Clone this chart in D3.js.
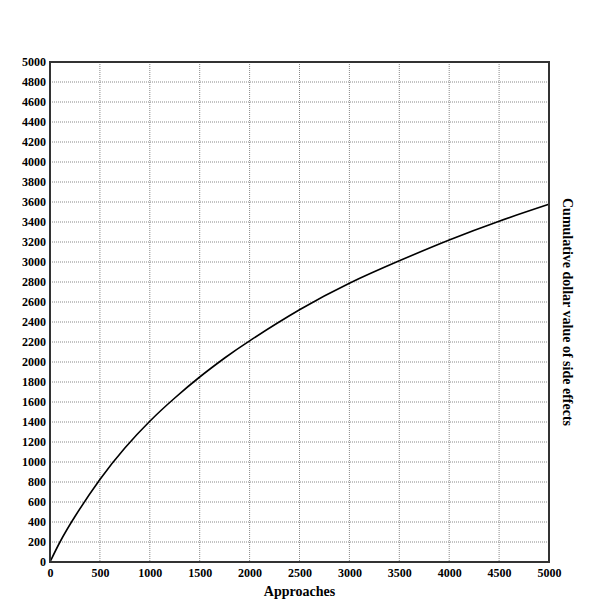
<!DOCTYPE html>
<html>
<head>
<meta charset="utf-8">
<script src="https://cdn.jsdelivr.net/npm/d3@7"></script>
<style>
  body { margin: 0; background: #fff; }
  svg { display: block; }
  text { font-family: "Liberation Serif", "DejaVu Serif", serif; font-weight: bold; fill: #000; }
  .tick text { font-size: 12px; }
  .axis-label { font-size: 14px; }
</style>
</head>
<body>
<svg id="chart" width="612" height="612" viewBox="0 0 612 612"></svg>
<script>
/* ── data ─────────────────────────────────────────────────────────────────── */

const approaches = [0, 100, 250, 500, 750, 1000, 1250, 1500, 1750, 2000, 2500, 3000, 3500, 4000, 4500, 5000];
const sideEffects = [0, 200, 455, 825, 1140, 1408, 1640, 1850, 2040, 2212, 2522, 2788, 3012, 3220, 3408, 3577];
const xTicks = d3.range(0, 5001, 500);
const yTicks = d3.range(0, 5001, 200);

/* ── layout ───────────────────────────────────────────────────────────────── */

const svg = d3.select("#chart");
const m = { top: 62, right: 63, bottom: 50, left: 50 };
const W = 612 - m.left - m.right;
const H = 612 - m.top - m.bottom;

const g = svg.append("g").attr("transform", `translate(${m.left},${m.top})`);

const xS = d3.scaleLinear().domain([0, 5000]).range([0, W]);
const yS = d3.scaleLinear().domain([0, 5000]).range([H, 0]);

// grid behind everything
const grid = g.append("g");
grid.selectAll("line.vx").data(xTicks.slice(1, -1)).enter().append("line")
  .attr("x1", (d) => xS(d)).attr("x2", (d) => xS(d))
  .attr("y1", 0).attr("y2", H)
  .attr("stroke", "#888").attr("stroke-width", 1).attr("stroke-dasharray", "1,1");
grid.selectAll("line.hy").data(yTicks.slice(1, -1)).enter().append("line")
  .attr("x1", 0).attr("x2", W)
  .attr("y1", (d) => yS(d)).attr("y2", (d) => yS(d))
  .attr("stroke", "#888").attr("stroke-width", 1).attr("stroke-dasharray", "1,1");

// axes (labels only, frame drawn separately)
const xAxis = g.append("g").attr("transform", `translate(0,${H})`)
  .call(d3.axisBottom(xS).tickValues(xTicks).tickSize(0).tickPadding(6).tickFormat(d3.format("d")));
const yAxis = g.append("g")
  .call(d3.axisLeft(yS).tickValues(yTicks).tickSize(0).tickPadding(4).tickFormat(d3.format("d")));
[xAxis, yAxis].forEach((a) => {
  a.select(".domain").remove();
  a.attr("font-family", null).attr("font-size", null);
});

// curve
const line = d3.line()
  .x((d, i) => xS(approaches[i]))
  .y((d) => yS(d))
  .curve(d3.curveNatural);
g.append("path")
  .datum(sideEffects)
  .attr("d", line)
  .attr("fill", "none")
  .attr("stroke", "#000")
  .attr("stroke-width", 1.6);

// frame
g.append("rect")
  .attr("x", 0).attr("y", 0).attr("width", W).attr("height", H)
  .attr("fill", "none").attr("stroke", "#333").attr("stroke-width", 2);

// axis titles
svg.append("text")
  .attr("class", "axis-label")
  .attr("x", m.left + W / 2)
  .attr("y", 596)
  .attr("text-anchor", "middle")
  .text("Approaches");

svg.append("text")
  .attr("class", "axis-label")
  .attr("transform", `translate(563,${m.top + H / 2}) rotate(90)`)
  .attr("text-anchor", "middle")
  .text("Cumulative dollar value of side effects");
</script>
</body>
</html>
